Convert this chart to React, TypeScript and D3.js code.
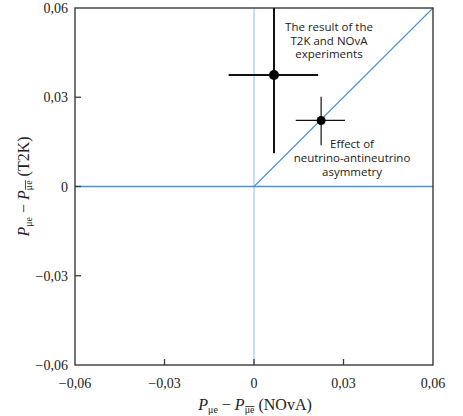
import React, { useEffect, useRef, useState } from "react";
import * as d3 from "d3";

const xTicks = [-0.06, -0.03, 0, 0.03, 0.06];
const yTicks = [-0.06, -0.03, 0, 0.03, 0.06];
const xDomain: [number, number] = [-0.06, 0.06];
const yDomain: [number, number] = [-0.06, 0.06];

// measured result (T2K & NOvA)
const resultX = [0.0067];
const resultY = [0.0375];
const resultXErr = [[-0.0085, 0.0215]];
const resultYErr = [[0.0112, 0.06]];

// asymmetry effect point
const effectX = [0.0225];
const effectY = [0.0222];
const effectXErr = [[0.014, 0.0305]];
const effectYErr = [[0.0139, 0.0302]];

const diagonal = [[0, 0], [0.06, 0.06]];

const resultLabel = ["The result of the", "T2K and NOvA", "experiments"];
const effectLabel = ["Effect of", "neutrino-antineutrino", "asymmetry"];

const fmt = (v: number) => {
  if (v === 0) return "0";
  const s = Math.abs(v).toFixed(2).replace(".", ",");
  return (v < 0 ? "\u2212" : "") + s;
};

const serif = "'Liberation Serif', 'Times New Roman', serif";
const sans = "'Open Sans', 'Noto Sans', sans-serif";

function AxisTitle({ transform, suffix }: { transform: string; suffix: string }) {
  const barRef = useRef<SVGTSpanElement>(null);
  const [bar, setBar] = useState<{ x: number; y: number; w: number } | null>(null);
  useEffect(() => {
    if (barRef.current) {
      const b = barRef.current.getBBox();
      setBar({ x: b.x, y: b.y + 2.5, w: b.width });
    }
  }, []);
  return (
    <g transform={transform}>
      <text x={0} y={0} textAnchor="middle" fontFamily={serif} fontSize={16} fill="#222">
        <tspan fontStyle="italic">P</tspan>
        <tspan fontSize={10} dy={3}>μe</tspan>
        <tspan dy={-3}> − </tspan>
        <tspan fontStyle="italic">P</tspan>
        <tspan ref={barRef} fontSize={10} dy={3}>μe</tspan>
        <tspan dy={-3}>{" " + suffix}</tspan>
      </text>
      {bar && <line x1={bar.x + 0.5} x2={bar.x + bar.w - 0.5} y1={bar.y} y2={bar.y} stroke="#222" strokeWidth={0.8} />}
    </g>
  );
}

export default function App() {
  const W = 463, H = 416;
  const L = 75, R = 433, T = 8, B = 365;
  const x = d3.scaleLinear().domain(xDomain).range([L, R]);
  const y = d3.scaleLinear().domain(yDomain).range([B, T]);
  const line = d3.line<number[]>().x(d => x(d[0])).y(d => y(d[1]));

  return (
    <svg width={W} height={H} style={{ position: "absolute", left: 0, top: 0 }}>
      <rect width={W} height={H} fill="#fff" />
      {/* zero lines */}
      <line x1={x(0)} x2={x(0)} y1={T} y2={B} stroke="#c6defa" strokeWidth={2} />
      <line x1={L} x2={R} y1={y(0)} y2={y(0)} stroke="#4a90e2" strokeWidth={1.3} />
      <path d={line(diagonal) || ""} stroke="#4a90e2" strokeWidth={1.1} fill="none" />

      {/* frame */}
      <rect x={L} y={T} width={R - L} height={B - T} fill="none" stroke="#3a3a3a" strokeWidth={1.4} />

      {/* ticks */}
      {xTicks.map((t, i) => (
        <g key={"xt" + i}>
          {i > 0 && i < xTicks.length - 1 && (
            <line x1={x(t)} x2={x(t)} y1={B} y2={B - 6} stroke="#3a3a3a" strokeWidth={1.3} />
          )}
          <text x={x(t)} y={388} textAnchor="middle" fontFamily={serif} fontSize={14} fill="#222">
            {fmt(t)}
          </text>
        </g>
      ))}
      {yTicks.map((t, i) => (
        <g key={"yt" + i}>
          {i > 0 && i < yTicks.length - 1 && (
            <line x1={L} x2={L + 6} y1={y(t)} y2={y(t)} stroke="#3a3a3a" strokeWidth={1.3} />
          )}
          <text x={68} y={y(t) + 5} textAnchor="end" fontFamily={serif} fontSize={14} fill="#222">
            {fmt(t)}
          </text>
        </g>
      ))}

      {/* result point */}
      {resultX.map((v, i) => (
        <g key={"r" + i}>
          <line x1={x(resultXErr[i][0])} x2={x(resultXErr[i][1])} y1={y(resultY[i])} y2={y(resultY[i])} stroke="#111" strokeWidth={2} />
          <line x1={x(v)} x2={x(v)} y1={y(resultYErr[i][0])} y2={y(resultYErr[i][1])} stroke="#111" strokeWidth={2} />
          <circle cx={x(v)} cy={y(resultY[i])} r={5} fill="#000" />
        </g>
      ))}
      {effectX.map((v, i) => (
        <g key={"e" + i}>
          <line x1={x(effectXErr[i][0])} x2={x(effectXErr[i][1])} y1={y(effectY[i])} y2={y(effectY[i])} stroke="#111" strokeWidth={1.2} />
          <line x1={x(v)} x2={x(v)} y1={y(effectYErr[i][0])} y2={y(effectYErr[i][1])} stroke="#111" strokeWidth={1.2} />
          <circle cx={x(v)} cy={y(effectY[i])} r={4.5} fill="#000" />
        </g>
      ))}

      {/* annotations */}
      {resultLabel.map((s, i) => (
        <text key={"rl" + i} x={329} y={31 + i * 13.5} textAnchor="middle" fontFamily={sans} fontSize={11.5} fill="#222">
          {s}
        </text>
      ))}
      {effectLabel.map((s, i) => (
        <text key={"el" + i} x={352} y={148 + i * 14} textAnchor="middle" fontFamily={sans} fontSize={11.5} fill="#222">
          {s}
        </text>
      ))}

      {/* axis titles */}
      <AxisTitle transform={`translate(255,410)`} suffix="(NOvA)" />
      <AxisTitle transform={`translate(29,${y(0)}) rotate(-90)`} suffix="(T2K)" />
    </svg>
  );
}
